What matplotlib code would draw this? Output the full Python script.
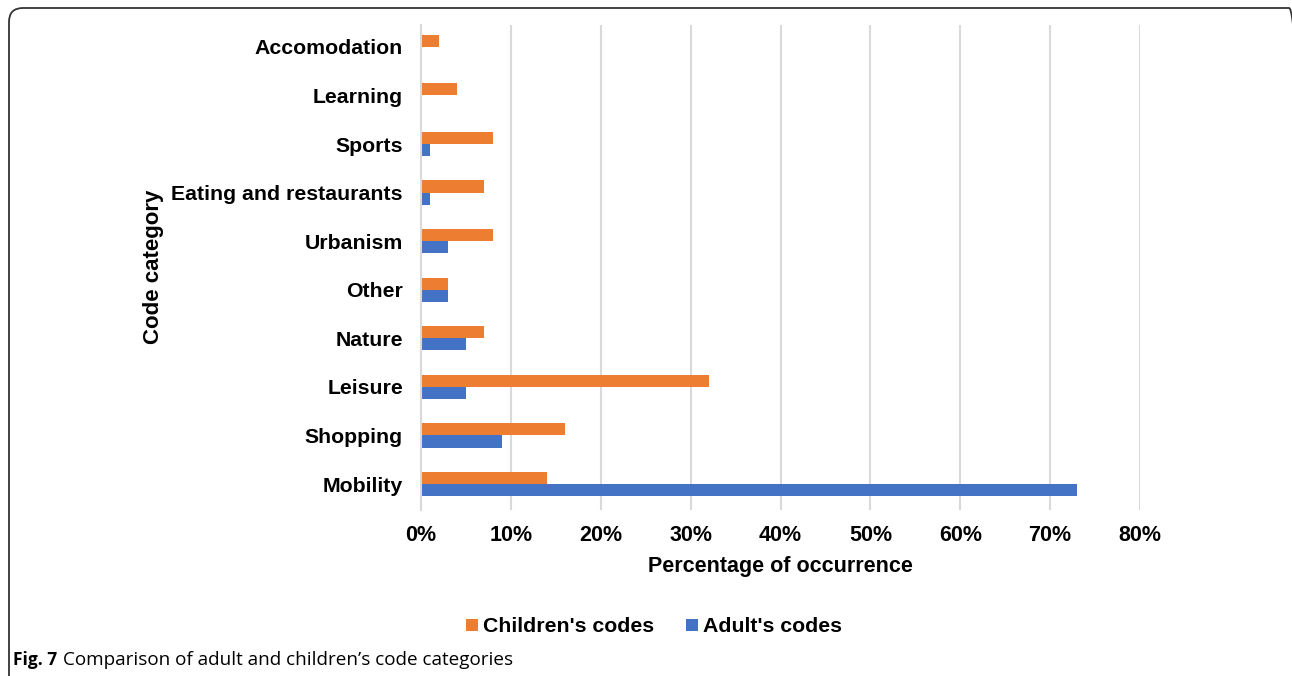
import numpy as np
import matplotlib
matplotlib.use("Agg")
import matplotlib.pyplot as plt
from matplotlib.patches import FancyBboxPatch
from matplotlib.ticker import PercentFormatter

plt.rcParams['font.family'] = ['Liberation Sans', 'DejaVu Sans']

# bottom-to-top order
categories = ["Mobility", "Shopping", "Leisure", "Nature", "Other",
              "Urbanism", "Eating and restaurants", "Sports", "Learning",
              "Accomodation"]
children = [14, 16, 32, 7, 3, 8, 7, 8, 4, 2]
adults = [73, 9, 5, 5, 3, 3, 1, 1, 0, 0]
xticks = [0, 10, 20, 30, 40, 50, 60, 70, 80]

W, H = 1292, 676
fig = plt.figure(figsize=(W / 100, H / 100), dpi=100)

# outer frame with rounded corners, open at right and bottom edges
frame = FancyBboxPatch((9, -30), 1294, H - 8 + 30, transform=None,
                       boxstyle="round,pad=0,rounding_size=14",
                       fill=False, edgecolor="#333333", linewidth=1.3)
fig.patches.append(frame)

ax = fig.add_axes([421 / W, 1 - 510 / H, (1140 - 421) / W, (510 - 25) / H])

y = np.arange(len(categories))
h = 0.25
ax.barh(y + h / 2, children, height=h, color="#ED7D31", label="Children's codes")
ax.barh(y - h / 2, adults, height=h, color="#4472C4", label="Adult's codes")

ax.set_xlim(0, 80)
ax.set_ylim(-0.535, 9.45)
ax.set_xticks(xticks)
ax.xaxis.set_major_formatter(PercentFormatter(decimals=0))
ax.set_yticks(y)
ax.set_yticklabels(categories)
ax.tick_params(length=0)
ax.tick_params(axis='x', pad=11, labelsize=15.5)
ax.tick_params(axis='y', pad=13, labelsize=15.3)
for lab in ax.get_xticklabels() + ax.get_yticklabels():
    lab.set_fontweight("bold")

ax.grid(axis='x', color="#d9d9d9", linewidth=1.5)
ax.set_axisbelow(True)
for s in ["top", "right", "bottom"]:
    ax.spines[s].set_visible(False)
ax.spines["left"].set_color("#d9d9d9")
ax.spines["left"].set_linewidth(1.5)

ax.set_xlabel("Percentage of occurrence", fontsize=15.5, fontweight="bold", labelpad=7)
fig.text(153 / W, 1 - 267 / H, "Code category", rotation=90, fontsize=16,
         fontweight="bold", ha="center", va="center")

fig.legend(loc="center", bbox_to_anchor=(654 / W, 1 - 627 / H), ncol=2,
           frameon=False, handlelength=0.55, handleheight=0.55, handletextpad=0.25,
           columnspacing=1.5, prop={"size": 15.3, "weight": "bold"})

fig_lab = fig.text(13 / W, 1 - 660 / H, "Fig. 7", fontsize=12.5, fontweight="bold",
                   ha="left", va="center", family=["Open Sans", "DejaVu Sans"])
fig.canvas.draw()
x_end = fig_lab.get_window_extent().x1
fig.text((x_end + 6) / W, 1 - 660 / H,
         "Comparison of adult and children\u2019s code categories",
         fontsize=13.6, ha="left", va="center", family=["Open Sans", "DejaVu Sans"])

fig.savefig("out.png", dpi=100)
